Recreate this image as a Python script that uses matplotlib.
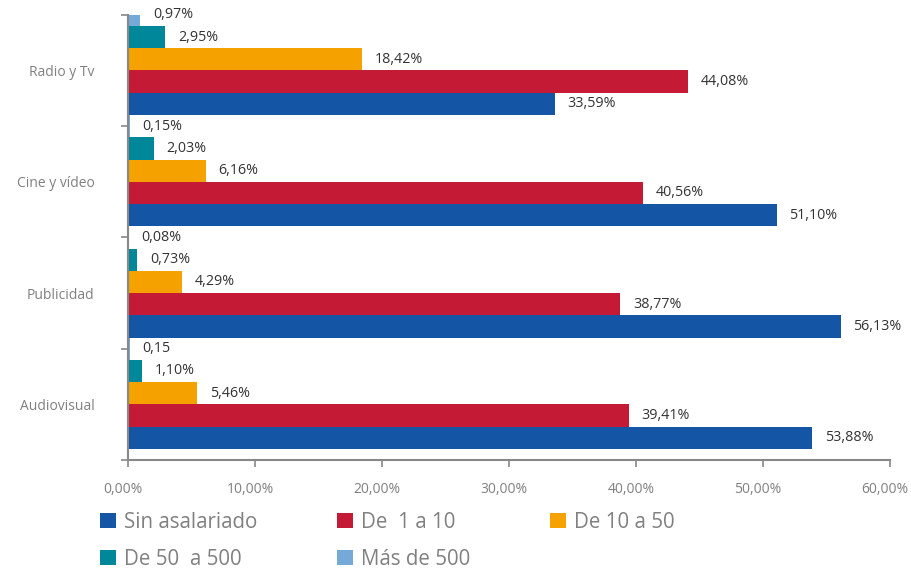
import numpy as np
import matplotlib.pyplot as plt
import matplotlib.transforms as mtransforms


categories = ["Audiovisual", "Publicidad", "Cine y vídeo", "Radio y Tv"]
series_names = ["Sin asalariado", "De  1 a 10", "De 10 a 50", "De 50  a 500", "Más de 500"]
sin_asalariado = [53.88, 56.13, 51.10, 33.59]
de_1_a_10 = [39.41, 38.77, 40.56, 44.08]
de_10_a_50 = [5.46, 4.29, 6.16, 18.42]
de_50_a_500 = [1.10, 0.73, 2.03, 2.95]
mas_de_500 = [0.15, 0.08, 0.15, 0.97]
mas_de_500_labels = ["0,15", "0,08%", "0,15%", "0,97%"]  # as printed in the source
x_ticks = [0, 10, 20, 30, 40, 50, 60]

colors = ["#1555a5", "#c41a35", "#f5a200", "#00879a", "#74a9d8"]


def pct(v):
    return ("%.2f%%" % v).replace(".", ",")


def plot_stuff(values, labels, k, name):
    y = np.arange(len(categories)) - 0.4 + 0.2*k
    plt.barh(y, values, height=0.2, align="edge", color=colors[k], label=name)
    for (yy, v, txt) in zip(y, values, labels):
        plt.annotate(txt, (v, yy + 0.1), xytext=(9, 0), textcoords="offset points",
                     va="center", ha="left", fontsize=10.3, color="#333333")


def main():
    plt.rcParams["font.family"] = ["Open Sans", "DejaVu Sans"]
    fig = plt.figure(figsize=(9.11, 5.72), dpi=100)
    plt.axes([0.1405, 0.196, 0.8365, 0.778])

    all_series = [sin_asalariado, de_1_a_10, de_10_a_50, de_50_a_500, mas_de_500]
    for k, values in enumerate(all_series):
        if k == 4:
            labels = mas_de_500_labels
        else:
            labels = [pct(v) for v in values]
        plot_stuff(values, labels, k, series_names[k])

    ax = plt.gca()
    plt.xlim(0, 60)
    plt.ylim(-0.5, len(categories) - 0.5)
    plt.xticks(x_ticks, [pct(t) for t in x_ticks], fontsize=10, color="#808080")
    plt.yticks(np.arange(len(categories) + 1) - 0.5, [""]*(len(categories) + 1))
    ax.set_yticks(np.arange(len(categories)), categories, minor=True)
    ax.tick_params(axis="y", which="minor", length=0, pad=24, labelsize=10, labelcolor="#808080")
    ax.tick_params(axis="both", which="major", length=5, width=1.2, color="#888888")
    ax.tick_params(axis="x", pad=11)
    for s in ["top", "right"]:
        ax.spines[s].set_visible(False)
    for s in ["left", "bottom"]:
        ax.spines[s].set_color("#888888")
        ax.spines[s].set_linewidth(1.5)
    # x labels sit a little to the left of their ticks in the original
    shift = mtransforms.ScaledTranslation(-5/100, 0, fig.dpi_scale_trans)
    for lab in ax.get_xticklabels():
        lab.set_transform(lab.get_transform() + shift)

    # legend filled column by column, so reorder to read row by row
    handles, names = ax.get_legend_handles_labels()
    order = [0, 3, 1, 4, 2]
    fig.legend([handles[i] for i in order], [names[i] for i in order],
               loc="upper left", bbox_to_anchor=(0.101, 0.12), ncol=3,
               frameon=False, fontsize=14.8, labelcolor="#808080",
               handlelength=0.75, handleheight=0.75, handletextpad=0.4,
               columnspacing=3.9, labelspacing=0.8, borderaxespad=0)

    plt.savefig("out.png", dpi=100)
    plt.close()


if __name__ == "__main__":
    main()
